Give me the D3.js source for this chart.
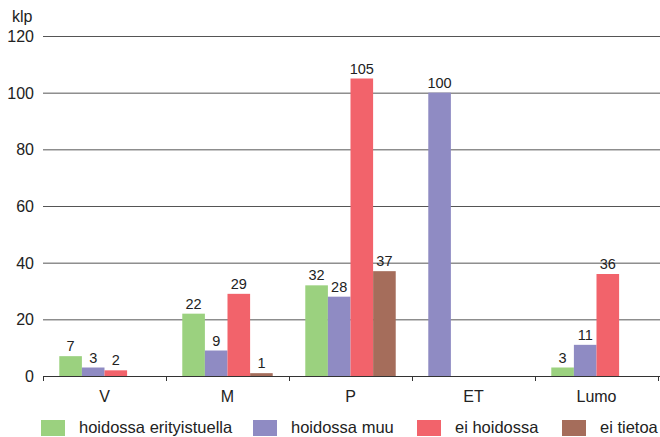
<!DOCTYPE html>
<html>
<head>
<meta charset="utf-8">
<script src="https://cdn.jsdelivr.net/npm/d3@7"></script>
<style>
  body { margin: 0; background: #fff; }
  text { font-family: "Liberation Sans", Arial, sans-serif; fill: #222; }
</style>
</head>
<body>
<svg id="chart" width="660" height="437"></svg>
<script>
const categories = ["V", "M", "P", "ET", "Lumo"]
const seriesNames = ["hoidossa erityistuella", "hoidossa muu", "ei hoidossa", "ei tietoa"]
const colors = ["#9bd17f", "#8f8bc3", "#f2636b", "#a56d5b"]

// null = no bar for that category
const erityistuella = [7, 22, 32, null, 3]
const muu = [3, 9, 28, 100, 11]
const eiHoidossa = [2, 29, 105, null, 36]
const eiTietoa = [null, 1, 37, null, null]
const yTicks = [0, 20, 40, 60, 80, 100, 120]

const series = [erityistuella, muu, eiHoidossa, eiTietoa]

const svg = d3.select("#chart")

let x = d3.scaleBand()
  .domain(categories)
  .range([43, 658])

let y = d3.scaleLinear()
  .domain([0, 120])
  .range([376, 36])

let slot = d3.scaleBand()
  .domain([0, 1, 2, 3])
  .range([0, x.bandwidth()])
  .paddingInner(0)
  .paddingOuter(0.72)

// gridlines
svg.append("g")
  .selectAll("line")
  .data(yTicks.filter(d => d > 0))
  .enter().append("line")
    .attr("x1", 43)
    .attr("x2", 660)
    .attr("y1", d => y(d) + 0.5)
    .attr("y2", d => y(d) + 0.5)
    .attr("stroke", "#555")
    .attr("stroke-width", 1)

// y labels
svg.append("g")
  .selectAll("text")
  .data(yTicks)
  .enter().append("text")
    .attr("x", 34)
    .attr("y", d => y(d) + 6)
    .attr("text-anchor", "end")
    .style("font-size", "16px")
    .text(d => d)

svg.append("text")
  .attr("x", 12)
  .attr("y", 22)
  .style("font-size", "16px")
  .text("klp")

// bars: present values fill slots from the left
let bars = []
categories.forEach((c, ci) => {
  let k = 0
  series.forEach((s, si) => {
    if (s[ci] != null) {
      bars.push({ cat: c, si: si, slot: k, value: s[ci] })
      k++
    }
  })
})

svg.append("g")
  .selectAll("rect")
  .data(bars)
  .enter().append("rect")
    .attr("x", d => x(d.cat) + slot(d.slot))
    .attr("width", slot.bandwidth())
    .attr("y", d => y(d.value))
    .attr("height", d => y(0) - y(d.value))
    .attr("fill", d => colors[d.si])

svg.append("g")
  .selectAll("text")
  .data(bars)
  .enter().append("text")
    .attr("x", d => x(d.cat) + slot(d.slot) + slot.bandwidth() / 2)
    .attr("y", d => y(d.value) - 5)
    .attr("text-anchor", "middle")
    .style("font-size", "14.5px")
    .text(d => d.value)

// x axis
let xAxis = svg.append("g")
xAxis.append("line")
  .attr("x1", 43).attr("x2", 660)
  .attr("y1", y(0) + 0.5).attr("y2", y(0) + 0.5)
  .attr("stroke", "#333")
  .attr("stroke-width", 1.2)

let bounds = categories.map(c => x(c)).concat([x.range()[1]])
xAxis.selectAll(".tick")
  .data(bounds)
  .enter().append("line")
    .attr("x1", d => Math.round(d) + 0.5)
    .attr("x2", d => Math.round(d) + 0.5)
    .attr("y1", y(0))
    .attr("y2", y(0) + 5)
    .attr("stroke", "#333")

xAxis.selectAll("text")
  .data(categories)
  .enter().append("text")
    .attr("x", d => x(d) + x.bandwidth() / 2)
    .attr("y", 402)
    .attr("text-anchor", "middle")
    .style("font-size", "16px")
    .text(d => d)

// legend
const legendX = [41, 253, 417, 562]
let legend = svg.append("g")
  .selectAll("g")
  .data(seriesNames)
  .enter().append("g")
    .attr("transform", (d, i) => "translate(" + legendX[i] + ",420)")

legend.append("rect")
  .attr("width", 24)
  .attr("height", 16)
  .attr("fill", (d, i) => colors[i])

legend.append("text")
  .attr("x", 38)
  .attr("y", 12.5)
  .style("font-size", "16.5px")
  .text(d => d)
</script>
</body>
</html>
